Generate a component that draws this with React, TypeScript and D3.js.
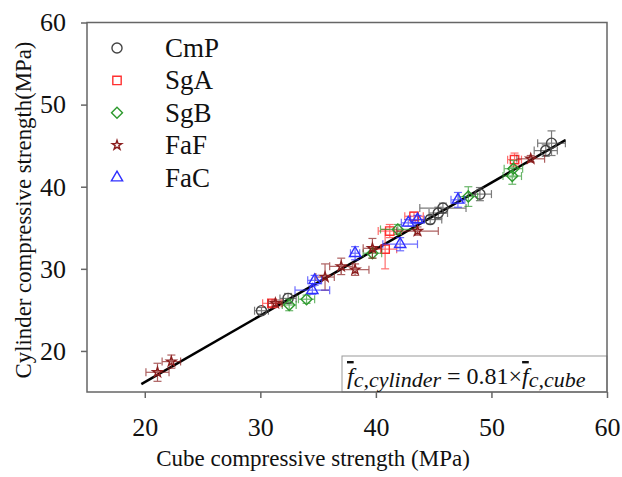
import React, { useEffect, useRef } from "react";
import * as d3 from "d3";

// [cube, cylinder, cube error, cylinder error]
const cmp = [
  [30.1, 24.9, 0.6, 0.4],
  [32.4, 26.4, 0.7, 0.6],
  [44.7, 36.0, 1.0, 0.5],
  [45.4, 36.8, 0.8, 0.7],
  [45.8, 37.4, 2.0, 0.6],
  [49.0, 39.1, 1.0, 0.8],
  [54.7, 44.4, 1.0, 0.7],
  [55.2, 45.3, 1.2, 1.5],
];
const sga = [
  [31.0, 25.8, 0.8, 0.4],
  [40.8, 32.4, 1.0, 2.4],
  [41.2, 34.6, 1.0, 0.8],
  [43.3, 36.4, 0.8, 0.5],
  [52.0, 43.3, 0.6, 0.8],
];
const sgb = [
  [32.5, 25.6, 0.6, 0.7],
  [34.0, 26.3, 0.7, 0.5],
  [39.7, 31.9, 0.8, 0.6],
  [41.9, 34.8, 1.5, 0.6],
  [48.0, 38.8, 0.8, 1.2],
  [51.8, 41.3, 0.8, 1.0],
  [51.9, 42.2, 0.8, 1.0],
];
const faf = [
  [21.1, 17.4, 1.0, 1.1],
  [22.3, 18.7, 0.8, 0.8],
  [31.3, 25.8, 0.6, 0.4],
  [35.6, 29.0, 0.8, 1.6],
  [37.0, 30.3, 1.0, 1.0],
  [38.2, 29.9, 1.2, 0.7],
  [39.7, 32.5, 0.8, 1.2],
  [43.6, 34.6, 1.8, 0.5],
  [53.4, 43.4, 1.2, 0.4],
];
const fac = [
  [34.5, 27.4, 1.5, 0.5],
  [34.7, 28.6, 0.6, 0.6],
  [38.2, 31.9, 0.4, 0.8],
  [42.1, 33.0, 1.5, 0.8],
  [42.8, 35.6, 0.6, 0.4],
  [43.6, 36.0, 0.6, 0.5],
  [47.1, 38.4, 0.6, 0.9],
];

const seriesNames = ["CmP", "SgA", "SgB", "FaF", "FaC"];
const seriesData = [cmp, sga, sgb, faf, fac];
const seriesColors = ["#444444", "#ff3030", "#2e9a2e", "#8b1e1e", "#3030ff"];
const seriesSymbols = [d3.symbolCircle, d3.symbolSquare, d3.symbolSquare, d3.symbolStar, d3.symbolTriangle];
const seriesSizes = [80, 70, 60, 28, 55];
const seriesRotate = [0, 0, 45, 0, 0];

const xTicks = [20, 30, 40, 50, 60];
const yTicks = [20, 30, 40, 50, 60];
const slope = 0.81;
const fitRange = [19.7, 56.4];

const font = "'Liberation Serif', 'Times New Roman', serif";

const App = () => {
  const ref = useRef(null);

  useEffect(() => {
    const svg = d3.select(ref.current);
    svg.selectAll("*").remove();

    const left = 87, right = 607, top = 22.5, bottom = 392;
    const x = d3.scaleLinear().domain([15, 60]).range([left, right]);
    const y = d3.scaleLinear().domain([15, 60]).range([bottom, top]);

    // formula box
    svg.append("rect")
      .attr("x", 342).attr("y", 356)
      .attr("width", right - 342).attr("height", bottom - 356)
      .attr("fill", "white").attr("stroke", "#999").attr("stroke-width", 1);

    // frame
    svg.append("rect")
      .attr("x", left).attr("y", top)
      .attr("width", right - left).attr("height", bottom - top)
      .attr("fill", "none").attr("stroke", "#666").attr("stroke-width", 1.5);

    const xAxis = svg.append("g")
      .attr("transform", `translate(0,${bottom})`)
      .call(d3.axisBottom(x).tickValues(xTicks).tickSize(6).tickPadding(20));
    const yAxis = svg.append("g")
      .attr("transform", `translate(${left},0)`)
      .call(d3.axisLeft(y).tickValues(yTicks).tickSize(6).tickPadding(15));
    [xAxis, yAxis].forEach((g) => {
      g.attr("font-family", font).attr("font-size", 26);
      g.select(".domain").remove();
      g.selectAll("line").attr("stroke", "#666").attr("stroke-width", 1.5);
      g.selectAll("text").attr("fill", "#111");
    });

    svg.append("text")
      .attr("x", 313).attr("y", 466)
      .attr("text-anchor", "middle")
      .attr("font-family", font).attr("font-size", 23).attr("fill", "#111")
      .text("Cube compressive strength (MPa)");

    svg.append("text")
      .attr("transform", `translate(31,${210}) rotate(-90)`)
      .attr("text-anchor", "middle")
      .attr("font-family", font).attr("font-size", 22.8).attr("fill", "#111")
      .text("Cylinder compressive strength(MPa)");

    // fit line
    svg.append("line")
      .attr("x1", x(fitRange[0])).attr("y1", y(fitRange[0] * slope))
      .attr("x2", x(fitRange[1])).attr("y2", y(fitRange[1] * slope))
      .attr("stroke", "#000").attr("stroke-width", 2.5);

    const cap = 4;
    seriesData.forEach((data, i) => {
      const color = seriesColors[i];
      const g = svg.append("g").attr("stroke", color).attr("fill", "none");
      const eb = g.append("g").attr("stroke-width", 1.2).attr("opacity", 0.7);
      data.forEach(([cx, cy, ex, ey]) => {
        const px = x(cx), py = y(cy);
        const x0 = x(cx - ex), x1 = x(cx + ex);
        const y0 = y(cy - ey), y1 = y(cy + ey);
        eb.append("line").attr("x1", x0).attr("x2", x1).attr("y1", py).attr("y2", py);
        eb.append("line").attr("x1", x0).attr("x2", x0).attr("y1", py - cap).attr("y2", py + cap);
        eb.append("line").attr("x1", x1).attr("x2", x1).attr("y1", py - cap).attr("y2", py + cap);
        eb.append("line").attr("x1", px).attr("x2", px).attr("y1", y0).attr("y2", y1);
        eb.append("line").attr("x1", px - cap).attr("x2", px + cap).attr("y1", y0).attr("y2", y0);
        eb.append("line").attr("x1", px - cap).attr("x2", px + cap).attr("y1", y1).attr("y2", y1);
      });
      g.selectAll("path")
        .data(data)
        .enter()
        .append("path")
        .attr("d", d3.symbol().type(seriesSymbols[i]).size(seriesSizes[i]))
        .attr("transform", (d) => `translate(${x(d[0])},${y(d[1])}) rotate(${seriesRotate[i]})`)
        .attr("stroke-width", 1.4);
    });

    // legend
    const legend = svg.append("g");
    seriesNames.forEach((name, i) => {
      const ly = 48 + i * 32.4;
      legend.append("path")
        .attr("d", d3.symbol().type(seriesSymbols[i]).size(seriesSizes[i])())
        .attr("transform", `translate(117,${ly}) rotate(${seriesRotate[i]})`)
        .attr("fill", "none").attr("stroke", seriesColors[i]).attr("stroke-width", 1.4);
      legend.append("text")
        .attr("x", 165).attr("y", ly + 9)
        .attr("font-family", font).attr("font-size", 27).attr("fill", "#111")
        .text(name);
    });

    // formula
    const ft = svg.append("text")
      .attr("x", 347).attr("y", 384)
      .attr("font-family", font).attr("font-size", 24).attr("fill", "#111");
    ft.append("tspan").style("font-style", "italic").style("text-decoration", "overline").text("f");
    ft.append("tspan").style("font-style", "italic").attr("font-size", 22).attr("dy", 3).text("c,cylinder");
    ft.append("tspan").attr("dy", -3).text(" = 0.81×");
    ft.append("tspan").style("font-style", "italic").style("text-decoration", "overline").text("f");
    ft.append("tspan").style("font-style", "italic").attr("font-size", 22).attr("dy", 3).text("c,cube");
  }, []);

  return (
    <svg ref={ref} width={622} height={477} style={{ display: "block", position: "absolute", left: 0, top: 0 }} />
  );
};

export default App;
